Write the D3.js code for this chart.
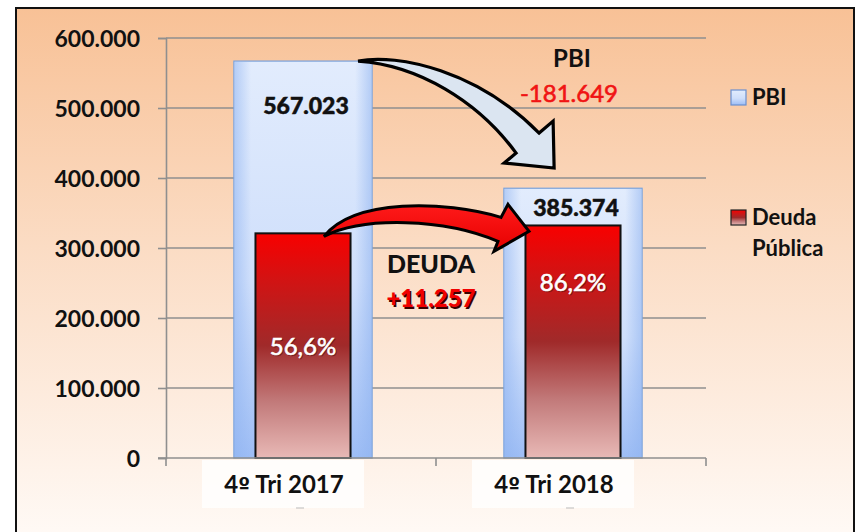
<!DOCTYPE html>
<html><head><meta charset="utf-8">
<script src="https://cdn.jsdelivr.net/npm/d3@7"></script>
<style>
html,body{margin:0;padding:0;background:#fff;}
svg{display:block;}
text{font-family:Lato,"Open Sans",sans-serif;}
</style></head>
<body>
<svg id="chart" width="857" height="532"></svg>
<script>
// ---- data ----
const categories = ["4º Tri 2017", "4º Tri 2018"];
const pbiValues = [567023, 385374];
const deudaValues = [320935, 332192];
const deudaPctLabels = ["56,6%", "86,2%"];
const yTicks = [0, 100000, 200000, 300000, 400000, 500000, 600000];
const seriesNames = ["PBI", "Deuda Pública"];
const pbiChangeLabel = "-181.649";
const deudaChangeLabel = "+11.257";

const W = 857, H = 532;
const svg = d3.select("#chart");
const defs = svg.append("defs");

const loc = d3.formatLocale({decimal: ",", thousands: ".", grouping: [3], currency: ["", ""]});
const fmt = loc.format(",d");

// gradients
const bg = defs.append("linearGradient").attr("id","bg").attr("x1",0).attr("y1",0).attr("x2",0).attr("y2",1);
bg.append("stop").attr("offset","0%").attr("stop-color","#f8c196");
bg.append("stop").attr("offset","45%").attr("stop-color","#fbdcc4");
bg.append("stop").attr("offset","100%").attr("stop-color","#fffaf6");

const gPbi = defs.append("linearGradient").attr("id","gpbi").attr("x1",0).attr("y1",0).attr("x2",0).attr("y2",1);
gPbi.append("stop").attr("offset","0%").attr("stop-color","#e2ecfd");
gPbi.append("stop").attr("offset","55%").attr("stop-color","#cfdffb");
gPbi.append("stop").attr("offset","100%").attr("stop-color","#9dbdf5");

const gPbiH = defs.append("linearGradient").attr("id","gpbih").attr("x1",0).attr("y1",0).attr("x2",1).attr("y2",0);
gPbiH.append("stop").attr("offset","0%").attr("stop-color","#8fb3f0").attr("stop-opacity",0.55);
gPbiH.append("stop").attr("offset","12%").attr("stop-color","#8fb3f0").attr("stop-opacity",0);
gPbiH.append("stop").attr("offset","88%").attr("stop-color","#8fb3f0").attr("stop-opacity",0);
gPbiH.append("stop").attr("offset","100%").attr("stop-color","#8fb3f0").attr("stop-opacity",0.55);

const gDeu = defs.append("linearGradient").attr("id","gdeu").attr("x1",0).attr("y1",0).attr("x2",0).attr("y2",1);
gDeu.append("stop").attr("offset","0%").attr("stop-color","#f80000");
gDeu.append("stop").attr("offset","22%").attr("stop-color","#d01414");
gDeu.append("stop").attr("offset","50%").attr("stop-color","#a02a2a");
gDeu.append("stop").attr("offset","75%").attr("stop-color","#c27a7a");
gDeu.append("stop").attr("offset","100%").attr("stop-color","#e8b9b6");

const gRedArrow = defs.append("linearGradient").attr("id","gred").attr("x1",0).attr("y1",0).attr("x2",0).attr("y2",1);
gRedArrow.append("stop").attr("offset","0%").attr("stop-color","#ff1a1a");
gRedArrow.append("stop").attr("offset","100%").attr("stop-color","#e60000");

// frame background
svg.append("rect").attr("x",16).attr("y",8).attr("width",838).attr("height",H)
  .attr("fill","url(#bg)").attr("stroke","#111").attr("stroke-width",2);

// scales
const plotL = 166, plotR = 706, plotT = 38, plotB = 458;
const x = d3.scaleBand().domain(categories).range([plotL, plotR]).padding(0);
const y = d3.scaleLinear().domain([0, 600000]).range([plotB, plotT]);
const bw = x.bandwidth();
const cx = c => x(c) + bw / 2 + 2;
const pbiW = bw * 0.512, deuW = bw * 0.352;

// gridlines
svg.append("g").selectAll("line").data(yTicks.filter(d => d > 0)).join("line")
  .attr("x1", plotL).attr("x2", plotR).attr("y1", d => y(d)).attr("y2", d => y(d))
  .attr("stroke","#8f8f8f").attr("stroke-width",1.6);

// y axis
const yAxis = svg.append("g").attr("transform",`translate(${plotL},0)`)
  .call(d3.axisLeft(y).tickValues(yTicks).tickFormat(fmt).tickSize(8).tickPadding(18));
yAxis.select(".domain").attr("stroke","#8f8f8f").attr("stroke-width",1.6);
yAxis.selectAll(".tick line").attr("stroke","#8f8f8f").attr("stroke-width",1.6);
yAxis.selectAll(".tick text").attr("font-size",23).attr("font-weight","bold").attr("fill","#111")
  .attr("font-family","Lato, sans-serif").attr("dy","0.36em");

// PBI bars
const pb = svg.append("g");
pb.selectAll("rect.pbi").data(categories).join("rect").attr("class","pbi")
  .attr("x", c => cx(c) - pbiW/2).attr("width", pbiW)
  .attr("y", (c,i) => y(pbiValues[i])).attr("height", (c,i) => y(0) - y(pbiValues[i]))
  .attr("fill","url(#gpbi)").attr("stroke","#7aa2dc").attr("stroke-width",1.2);
pb.selectAll("rect.pbih").data(categories).join("rect").attr("class","pbih")
  .attr("x", c => cx(c) - pbiW/2 + 0.6).attr("width", pbiW - 1.2)
  .attr("y", (c,i) => y(pbiValues[i]) + 0.6).attr("height", (c,i) => y(0) - y(pbiValues[i]) - 1.2)
  .attr("fill","url(#gpbih)");

// Deuda bars
svg.append("g").selectAll("rect").data(categories).join("rect")
  .attr("x", c => cx(c) - deuW/2).attr("width", deuW)
  .attr("y", (c,i) => y(deudaValues[i])).attr("height", (c,i) => y(0) - y(deudaValues[i]))
  .attr("fill","url(#gdeu)").attr("stroke","#111").attr("stroke-width",2);

// x axis baseline and ticks
svg.append("line").attr("x1", plotL - 8).attr("x2", plotR).attr("y1", plotB).attr("y2", plotB)
  .attr("stroke","#8f8f8f").attr("stroke-width",1.6);
const xTickPos = [plotL, x(categories[1]), plotR];
svg.append("g").selectAll("line").data(xTickPos).join("line")
  .attr("x1", d => d).attr("x2", d => d).attr("y1", plotB).attr("y2", plotB + 8)
  .attr("stroke","#8f8f8f").attr("stroke-width",1.6);

// category label boxes
const lab = svg.append("g");
lab.selectAll("rect").data(categories).join("rect")
  .attr("x", c => cx(c) - 101).attr("y", plotB + 2).attr("width", 162).attr("height", 48)
  .attr("fill","#ffffff").attr("opacity",0.8);
lab.selectAll("line").data(categories).join("line")
  .attr("x1", c => cx(c) - 7).attr("x2", c => cx(c) + 1).attr("y1", plotB + 50).attr("y2", plotB + 50)
  .attr("stroke","#bbb").attr("stroke-width",1);
lab.selectAll("text").data(categories).join("text")
  .attr("x", c => cx(c) - 19).attr("y", plotB + 35).attr("text-anchor","middle")
  .attr("font-size",24).attr("font-weight","bold").attr("fill","#111")
  .each(function(c){
    const t = d3.select(this);
    const k = c.indexOf("º");
    t.append("tspan").text(c.slice(0, k));
    t.append("tspan").attr("font-family","'DejaVu Sans', sans-serif").attr("font-size",21).text("º");
    t.append("tspan").text(c.slice(k + 1));
  });

// PBI value labels
svg.append("g").selectAll("text").data(categories).join("text")
  .attr("x", c => cx(c) + 3).attr("y", (c,i) => y(pbiValues[i]) + (i === 0 ? 53 : 28))
  .attr("text-anchor","middle").attr("font-size",23).attr("font-weight","900").attr("fill","#111")
  .attr("stroke","#111").attr("stroke-width",0.5)
  .text((c,i) => fmt(pbiValues[i]));

// Deuda pct labels
const pctY = [355, 291];
const pl = svg.append("g");
pl.selectAll("text.sh").data(categories).join("text").attr("class","sh")
  .attr("x", c => cx(c) + 1).attr("y", (c,i) => pctY[i] + 1)
  .attr("text-anchor","middle").attr("font-size",24).attr("fill","#5a1010").attr("opacity",0.6)
  .attr("stroke","#5a1010").attr("stroke-width",0.6)
  .text((c,i) => deudaPctLabels[i]);
pl.selectAll("text.t").data(categories).join("text").attr("class","t")
  .attr("x", c => cx(c)).attr("y", (c,i) => pctY[i])
  .attr("text-anchor","middle").attr("font-size",24).attr("fill","#ffffff")
  .attr("stroke","#ffffff").attr("stroke-width",0.6)
  .text((c,i) => deudaPctLabels[i]);

// arrows (annotation shapes anchored on bars)
const p0 = [cx(categories[0]) + pbiW/2 - 14, y(pbiValues[0])];
const pbiArrow = `M${p0[0]},${p0[1]}
 C${p0[0]+40},${p0[1]-8} ${p0[0]+120},${p0[1]+10} ${p0[0]+181},${p0[1]+72}
 L${p0[0]+195},${p0[1]+60}
 L${p0[0]+196},${p0[1]+107}
 L${p0[0]+146},${p0[1]+102}
 L${p0[0]+158},${p0[1]+92}
 C${p0[0]+120},${p0[1]+40} ${p0[0]+60},${p0[1]+4} ${p0[0]},${p0[1]} Z`;
svg.append("path").attr("d", pbiArrow).attr("fill","#dbe5f1").attr("stroke","#000")
  .attr("stroke-width",3.2).attr("stroke-linejoin","miter");

const d0 = [cx(categories[0]) + 21, y(deudaValues[0]) + 3];
const deuArrow = `M${d0[0]},${d0[1]}
 C${d0[0]+30},${d0[1]-38} ${d0[0]+120},${d0[1]-36} ${d0[0]+177},${d0[1]-19}
 L${d0[0]+184},${d0[1]-32}
 L${d0[0]+205},${d0[1]-5}
 L${d0[0]+170},${d0[1]+15}
 L${d0[0]+174},${d0[1]+5}
 C${d0[0]+120},${d0[1]-18} ${d0[0]+40},${d0[1]-20} ${d0[0]},${d0[1]} Z`;
svg.append("path").attr("d", deuArrow).attr("fill","url(#gred)").attr("stroke","#000")
  .attr("stroke-width",3).attr("stroke-linejoin","miter");

// change annotations
const midX = x(categories[1]) - 5;
svg.append("text").attr("x", cx(categories[1]) - 1).attr("y", 67).attr("text-anchor","middle")
  .attr("font-size",24).attr("font-weight","bold").attr("fill","#111").text("PBI");
svg.append("text").attr("x", cx(categories[1]) - 4).attr("y", 102).attr("text-anchor","middle")
  .attr("font-size",24).attr("fill","#f01414").attr("stroke","#f01414").attr("stroke-width",0.6)
  .text(pbiChangeLabel);
svg.append("text").attr("x", midX).attr("y", 273).attr("text-anchor","middle")
  .attr("font-size",25).attr("font-weight","900").attr("fill","#111").text("DEUDA");
svg.append("text").attr("x", midX + 1.5).attr("y", 308.5).attr("text-anchor","middle")
  .attr("font-size",24).attr("font-weight","900").attr("fill","#3a0000").text(deudaChangeLabel);
svg.append("text").attr("x", midX).attr("y", 307).attr("text-anchor","middle")
  .attr("font-size",24).attr("font-weight","900").attr("fill","#f00000").text(deudaChangeLabel);

// legend
const lg = svg.append("g");
const lgY = [90, 210];
const lgFill = ["url(#gpbi)", "url(#gdeu)"];
const lgStroke = ["#6a8fd0", "#222"];
lg.selectAll("rect").data(seriesNames).join("rect")
  .attr("x", 731).attr("y", (d,i) => lgY[i]).attr("width", 15).attr("height", 15)
  .attr("fill", (d,i) => lgFill[i]).attr("stroke", (d,i) => lgStroke[i]).attr("stroke-width",1.2);
lg.selectAll("text").data(seriesNames).join("text")
  .attr("x", 752).attr("y", (d,i) => lgY[i] + 15)
  .attr("font-size",22).attr("font-weight","bold").attr("fill","#111")
  .each(function(d){
    const parts = d.split(" ");
    const t = d3.select(this);
    parts.forEach((p,j) => t.append("tspan").attr("x",752).attr("dy", j === 0 ? 0 : 31).text(p));
  });
</script>
</body></html>
